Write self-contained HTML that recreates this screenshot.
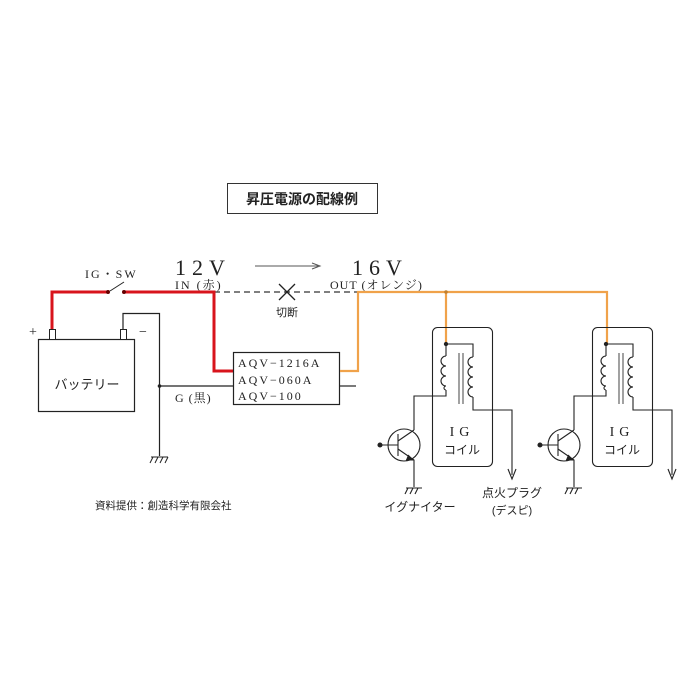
<!DOCTYPE html>
<html><head><meta charset="utf-8"><style>
body{margin:0;background:#fff}
svg{display:block}
text{font-family:"Liberation Serif","Noto Serif CJK SC",serif;fill:#222}
.j{font-family:"Liberation Sans","Noto Sans CJK JP",sans-serif}
</style></head><body>
<svg width="700" height="700" viewBox="0 0 700 700" xmlns="http://www.w3.org/2000/svg">
<rect width="700" height="700" fill="#fff"/>
<!-- title -->
<rect x="227.5" y="183.5" width="150" height="30" fill="none" stroke="#333" stroke-width="1"/>
<text x="302" y="204" class="j" font-size="14" font-weight="bold" text-anchor="middle">昇圧電源の配線例</text>
<!-- labels -->
<text x="85" y="278" font-size="12" letter-spacing="2">IG・SW</text>
<text x="175" y="275" font-size="22" letter-spacing="6">12V</text>
<text x="175" y="289" font-size="12" letter-spacing="2">IN (赤)</text>
<line x1="255" y1="266" x2="318" y2="266" stroke="#555" stroke-width="1"/>
<path d="M312,263 L320,266 L312,269" fill="none" stroke="#555" stroke-width="1"/>
<text x="352" y="275" font-size="22" letter-spacing="6">16V</text>
<text x="330" y="289" font-size="12" letter-spacing="1">OUT (オレンジ)</text>
<!-- dashed -->
<line x1="214" y1="292" x2="358" y2="292" stroke="#333" stroke-width="1.3" stroke-dasharray="6,4"/>
<path d="M279,284 L295,300 M295,284 L279,300" stroke="#222" stroke-width="1.3"/>
<text x="287" y="316" class="j" font-size="11" text-anchor="middle">切断</text>
<!-- red wire -->
<path d="M52,330 V292 H107 M125,292 H214 V371 H234" fill="none" stroke="#d8141c" stroke-width="3"/>
<circle cx="108" cy="292" r="2" fill="#600"/><circle cx="124" cy="292" r="2" fill="#600"/>
<line x1="110" y1="291" x2="124" y2="282" stroke="#222" stroke-width="1"/>
<!-- battery -->
<rect x="38.5" y="339.5" width="96" height="72" fill="#fff" stroke="#222" stroke-width="1.2"/>
<rect x="49.5" y="329.5" width="6" height="10" fill="#fff" stroke="#222"/>
<rect x="120.5" y="329.5" width="6" height="10" fill="#fff" stroke="#222"/>
<text x="33" y="336" font-size="14" text-anchor="middle">+</text>
<text x="143" y="336" font-size="14" text-anchor="middle">−</text>
<text x="87" y="389" class="j" font-size="13" text-anchor="middle">バッテリー</text>
<path d="M123,329 V313.5 H159.5 V456" fill="none" stroke="#222" stroke-width="1.2"/>
<circle cx="159.5" cy="386" r="1.8" fill="#222"/>
<line x1="159" y1="386" x2="234" y2="386" stroke="#222" stroke-width="1.2"/>
<text x="175" y="402" font-size="12" letter-spacing="1">G (黒)</text>
<path d="M151,457 H168 M153,457 L150,463 M158,457 L155,463 M163,457 L160,463 M168,457 L165,463" stroke="#222" stroke-width="1"/>
<!-- module -->
<rect x="233.5" y="352.5" width="106" height="52" fill="#fff" stroke="#222" stroke-width="1.2"/>
<text x="238" y="367" font-size="12" letter-spacing="2">AQV−1216A</text>
<text x="238" y="384" font-size="12" letter-spacing="2">AQV−060A</text>
<text x="238" y="400" font-size="12" letter-spacing="2">AQV−100</text>
<line x1="340" y1="386" x2="356" y2="386" stroke="#222" stroke-width="1.2"/>
<!-- orange -->
<path d="M340,371 H358 V292 H607 V345 M446,292 V345" fill="none" stroke="#f0a24a" stroke-width="2.2"/>
<circle cx="446" cy="292" r="1.8" fill="#c08030"/>
<!-- coil units -->
<g id="u" fill="none" stroke="#222" stroke-width="1.1">
<rect x="432.5" y="327.5" width="60" height="139" rx="5"/>
<circle cx="446" cy="344" r="1.6" fill="#222"/>
<path d="M446,344 V356 M446,390 V396 H414 V430"/>
<path d="M446,356 a5,5 0 0,0 0,10 a5,5 0 0,0 0,10 a5,5 0 0,0 0,10 a2,2 0 0,0 0,4"/>
<path d="M446,344 H473 V357 M473,397 V410 H512 V475"/>
<path d="M473,357 a5,5 0 0,0 0,10 a5,5 0 0,0 0,10 a5,5 0 0,0 0,10 a5,5 0 0,0 0,10"/>
<path d="M459,353 V404 M463,353 V404" stroke="#555"/>
<path d="M508,469 L512,479 L516,469"/>
<circle cx="404" cy="445" r="16"/>
<path d="M381,445 H398 M398,434 V456 M398,441 L414,430 M398,449 L414,460 V487"/>
<path d="M408,455 L413,460 L406,460" fill="#222"/>
<circle cx="380" cy="445" r="2" fill="#222"/>
<path d="M406,488 H422 M408,488 L405,494 M413,488 L410,494 M418,488 L415,494"/>
</g>
<use href="#u" transform="translate(160,0)"/>
<text x="462" y="436" font-size="14" letter-spacing="5" text-anchor="middle">IG</text>
<text x="462" y="454" class="j" font-size="12" text-anchor="middle">コイル</text>
<text x="622" y="436" font-size="14" letter-spacing="5" text-anchor="middle">IG</text>
<text x="622" y="454" class="j" font-size="12" text-anchor="middle">コイル</text>
<text x="420" y="511" class="j" font-size="12" text-anchor="middle">イグナイター</text>
<text x="512" y="497" class="j" font-size="12" text-anchor="middle">点火プラグ</text>
<text x="512" y="514" class="j" font-size="11" text-anchor="middle">(デスピ)</text>
<text x="95" y="509" class="j" font-size="10.5">資料提供：創造科学有限会社</text>
</svg>
</body></html>
